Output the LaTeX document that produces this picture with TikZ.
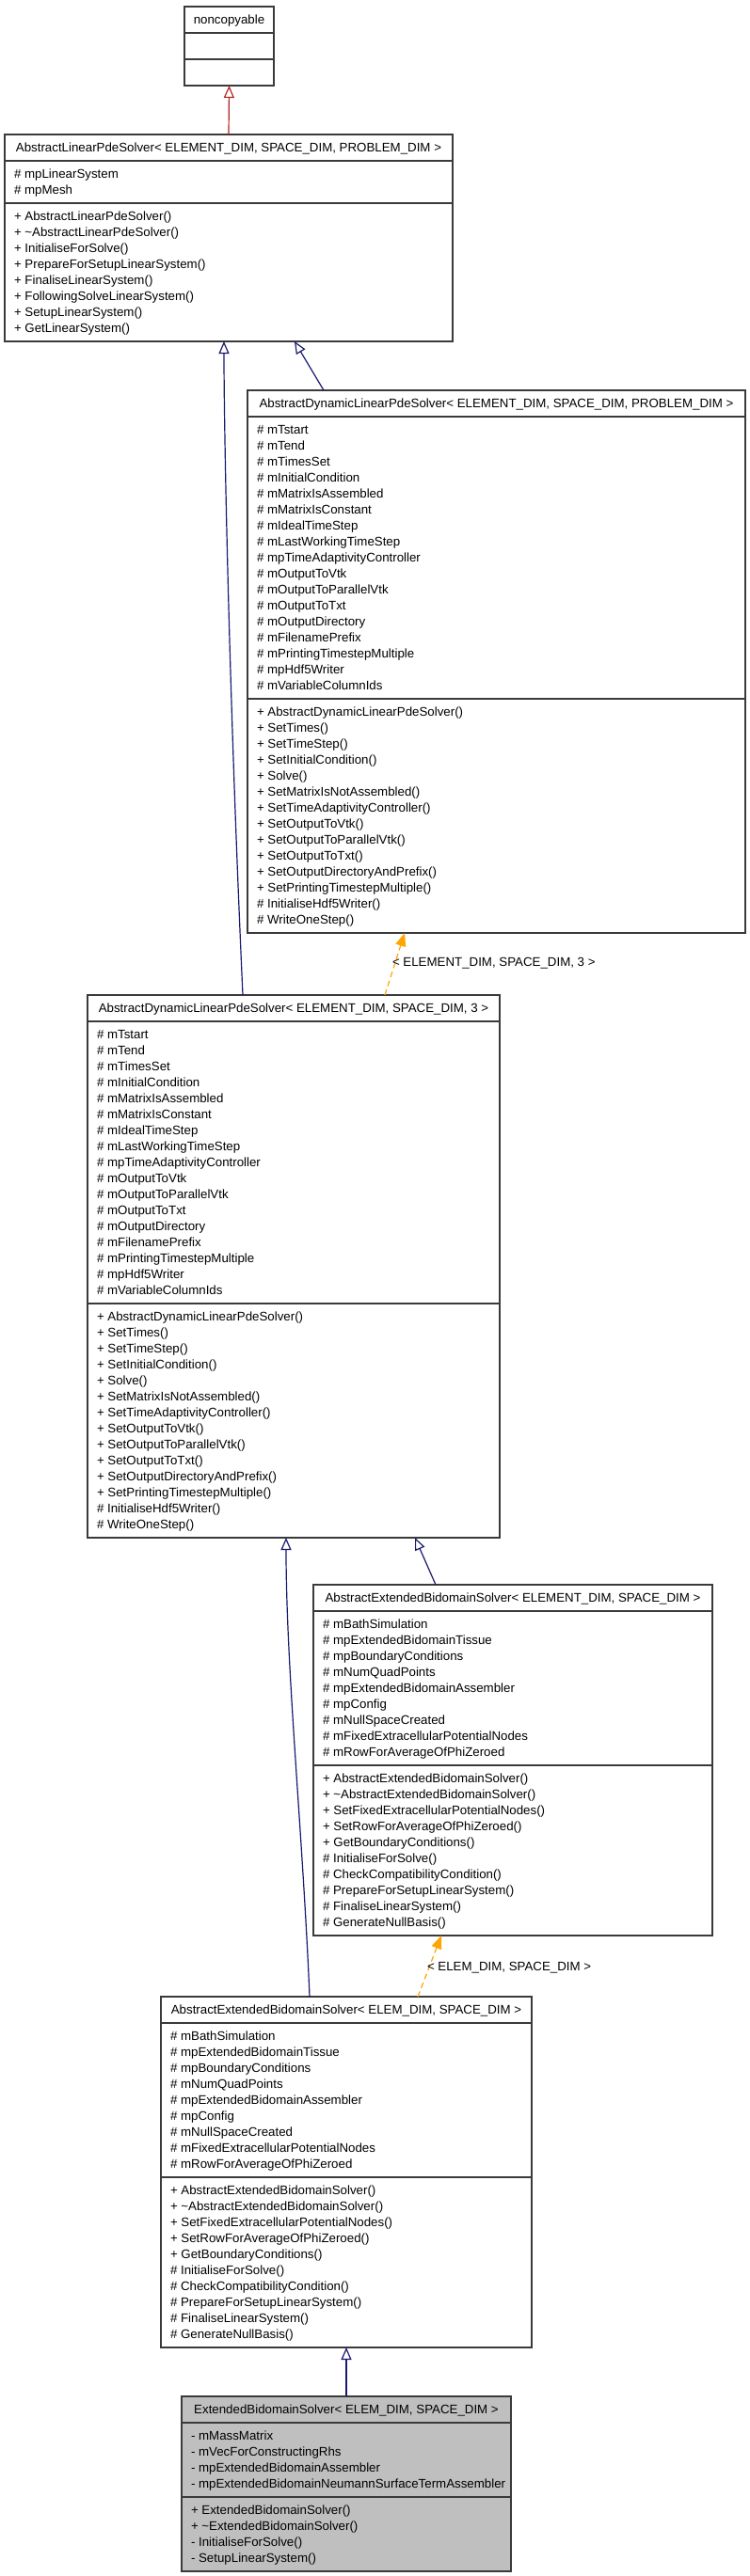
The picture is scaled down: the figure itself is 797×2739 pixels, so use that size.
\documentclass[tikz,border=0pt]{standalone}
\usepackage{fontspec}
\setmainfont{Liberation Sans}
\usetikzlibrary{arrows.meta,calc}
\definecolor{midnight}{HTML}{191970}
\definecolor{fbrick}{HTML}{B22222}
\definecolor{orng}{HTML}{FFA500}
\definecolor{greyfill}{HTML}{BFBFBF}
\definecolor{boxline}{HTML}{3A3A3A}
\def\curfill{white}
\tikzset{
  umlbox/.style={draw=boxline, line width=1.2pt, fill=\curfill, inner sep=0pt, outer sep=0pt},
  umlline/.style={draw=boxline, line width=1.2pt},
  umltext/.style={font=\fontsize{13.3}{17}\selectfont, inner sep=0pt, outer sep=0pt, text=black},
  inh/.style={draw=midnight, line width=1.2pt, -{Triangle[open, width=11pt, length=13pt, line width=1.2pt]}},
  inhred/.style={draw=fbrick, line width=1.2pt, -{Triangle[open, width=11pt, length=13pt, line width=1.2pt]}},
  tmpl/.style={draw=orng, line width=1.2pt, dash pattern=on 6pt off 4pt, -{Triangle[width=11pt, length=14pt, fill=orng]}},
}
% #1 name #2 left #3 right #4 top #5 title #6 nattr #7 attrs #8 nmeth #9 meths
\newcommand\classbox[9]{%
  \pgfmathsetmacro\ya{#4+28}%
  \pgfmathsetmacro\yb{\ya+11+17*#6}%
  \pgfmathsetmacro\yc{\yb+11+17*#8}%
  \pgfmathsetmacro\bw{#3-#2}%
  \pgfmathsetmacro\bh{\yc-#4}%
  \node[umlbox, minimum width=\bw pt, minimum height=\bh pt, anchor=north west] (#1) at (#2,#4) {};
  \draw[umlline] (#2,\ya) -- (#3,\ya);
  \draw[umlline] (#2,\yb) -- (#3,\yb);
  \node[umltext, anchor=base] (#1-t) at ({(#2+#3)/2},#4+18) {#5};
  \def\tmpa{#7}\ifx\tmpa\empty\else
    \foreach \s [count=\i] in {#7} {\node[umltext, anchor=base west] (#1-a\i) at (#2+10,\ya+1+17*\i) {\s};}
  \fi
  \def\tmpb{#9}\ifx\tmpb\empty\else
    \foreach \s [count=\i] in {#9} {\node[umltext, anchor=base west] (#1-m\i) at (#2+10,\yb+1+17*\i) {\s};}
  \fi
}
\begin{document}
\begin{tikzpicture}[x=1pt,y=-1pt]
\fill[white] (0,0) rectangle (797,2739);
\useasboundingbox (0,0) rectangle (797,2739);

\classbox{nc}{196}{291}{7}{noncopyable}{1}{}{1}{}

\classbox{b2}{5}{481}{143}{AbstractLinearPdeSolver< ELEMENT\_DIM, SPACE\_DIM, PROBLEM\_DIM >}{2}{\# mpLinearSystem, \# mpMesh}{8}{+ AbstractLinearPdeSolver(), + \textasciitilde AbstractLinearPdeSolver(), + InitialiseForSolve(), + PrepareForSetupLinearSystem(), + FinaliseLinearSystem(), + FollowingSolveLinearSystem(), + SetupLinearSystem(), + GetLinearSystem()}

\classbox{b3}{263}{792}{415}{AbstractDynamicLinearPdeSolver< ELEMENT\_DIM, SPACE\_DIM, PROBLEM\_DIM >}{17}{\# mTstart, \# mTend, \# mTimesSet, \# mInitialCondition, \# mMatrixIsAssembled, \# mMatrixIsConstant, \# mIdealTimeStep, \# mLastWorkingTimeStep, \# mpTimeAdaptivityController, \# mOutputToVtk, \# mOutputToParallelVtk, \# mOutputToTxt, \# mOutputDirectory, \# mFilenamePrefix, \# mPrintingTimestepMultiple, \# mpHdf5Writer, \# mVariableColumnIds}{14}{+ AbstractDynamicLinearPdeSolver(), + SetTimes(), + SetTimeStep(), + SetInitialCondition(), + Solve(), + SetMatrixIsNotAssembled(), + SetTimeAdaptivityController(), + SetOutputToVtk(), + SetOutputToParallelVtk(), + SetOutputToTxt(), + SetOutputDirectoryAndPrefix(), + SetPrintingTimestepMultiple(), \# InitialiseHdf5Writer(), \# WriteOneStep()}

\classbox{b4}{93}{531}{1058}{AbstractDynamicLinearPdeSolver< ELEMENT\_DIM, SPACE\_DIM, 3 >}{17}{\# mTstart, \# mTend, \# mTimesSet, \# mInitialCondition, \# mMatrixIsAssembled, \# mMatrixIsConstant, \# mIdealTimeStep, \# mLastWorkingTimeStep, \# mpTimeAdaptivityController, \# mOutputToVtk, \# mOutputToParallelVtk, \# mOutputToTxt, \# mOutputDirectory, \# mFilenamePrefix, \# mPrintingTimestepMultiple, \# mpHdf5Writer, \# mVariableColumnIds}{14}{+ AbstractDynamicLinearPdeSolver(), + SetTimes(), + SetTimeStep(), + SetInitialCondition(), + Solve(), + SetMatrixIsNotAssembled(), + SetTimeAdaptivityController(), + SetOutputToVtk(), + SetOutputToParallelVtk(), + SetOutputToTxt(), + SetOutputDirectoryAndPrefix(), + SetPrintingTimestepMultiple(), \# InitialiseHdf5Writer(), \# WriteOneStep()}

\classbox{b5}{333}{757}{1685}{AbstractExtendedBidomainSolver< ELEMENT\_DIM, SPACE\_DIM >}{9}{\# mBathSimulation, \# mpExtendedBidomainTissue, \# mpBoundaryConditions, \# mNumQuadPoints, \# mpExtendedBidomainAssembler, \# mpConfig, \# mNullSpaceCreated, \# mFixedExtracellularPotentialNodes, \# mRowForAverageOfPhiZeroed}{10}{+ AbstractExtendedBidomainSolver(), + \textasciitilde AbstractExtendedBidomainSolver(), + SetFixedExtracellularPotentialNodes(), + SetRowForAverageOfPhiZeroed(), + GetBoundaryConditions(), \# InitialiseForSolve(), \# CheckCompatibilityCondition(), \# PrepareForSetupLinearSystem(), \# FinaliseLinearSystem(), \# GenerateNullBasis()}

\classbox{b6}{171}{565}{2123}{AbstractExtendedBidomainSolver< ELEM\_DIM, SPACE\_DIM >}{9}{\# mBathSimulation, \# mpExtendedBidomainTissue, \# mpBoundaryConditions, \# mNumQuadPoints, \# mpExtendedBidomainAssembler, \# mpConfig, \# mNullSpaceCreated, \# mFixedExtracellularPotentialNodes, \# mRowForAverageOfPhiZeroed}{10}{+ AbstractExtendedBidomainSolver(), + \textasciitilde AbstractExtendedBidomainSolver(), + SetFixedExtracellularPotentialNodes(), + SetRowForAverageOfPhiZeroed(), + GetBoundaryConditions(), \# InitialiseForSolve(), \# CheckCompatibilityCondition(), \# PrepareForSetupLinearSystem(), \# FinaliseLinearSystem(), \# GenerateNullBasis()}

\def\curfill{greyfill}
\classbox{b7}{193}{543}{2548}{ExtendedBidomainSolver< ELEM\_DIM, SPACE\_DIM >}{4}{- mMassMatrix, - mVecForConstructingRhs, - mpExtendedBidomainAssembler, - mpExtendedBidomainNeumannSurfaceTermAssembler}{4}{+ ExtendedBidomainSolver(), + \textasciitilde ExtendedBidomainSolver(), - InitialiseForSolve(), - SetupLinearSystem()}

% connectors
\draw[inhred] (b2.north) -- (nc.south);
\draw[inh] ([xshift=81pt]b3.north west) -- ([xshift=308pt]b2.south west);
\draw[inh] ([xshift=165pt]b4.north west)
  .. controls ([xshift=150pt,yshift=330pt]b4.north west) and ([xshift=233pt,yshift=-90pt]b2.south west)
  .. ([xshift=233pt]b2.south west);
\draw[tmpl] ([xshift=316pt]b4.north west) -- ([xshift=167pt]b3.south west);
\node[umltext, anchor=base west] (lbl1) at (417,1027.5) {< ELEMENT\_DIM, SPACE\_DIM, 3 >};
\draw[inh] ([xshift=130pt]b5.north west) -- ([xshift=348pt]b4.south west);
\draw[inh] ([xshift=158pt]b6.north west)
  .. controls ([xshift=151pt,yshift=170pt]b6.north west) and ([xshift=211pt,yshift=-140pt]b4.south west)
  .. ([xshift=211pt]b4.south west);
\draw[tmpl] ([xshift=273pt]b6.north west) -- ([xshift=136pt]b5.south west);
\node[umltext, anchor=base west] (lbl2) at (454,2095.5) {< ELEM\_DIM, SPACE\_DIM >};
\draw[inh] (b7.north) -- (b6.south);
\end{tikzpicture}
\end{document}
